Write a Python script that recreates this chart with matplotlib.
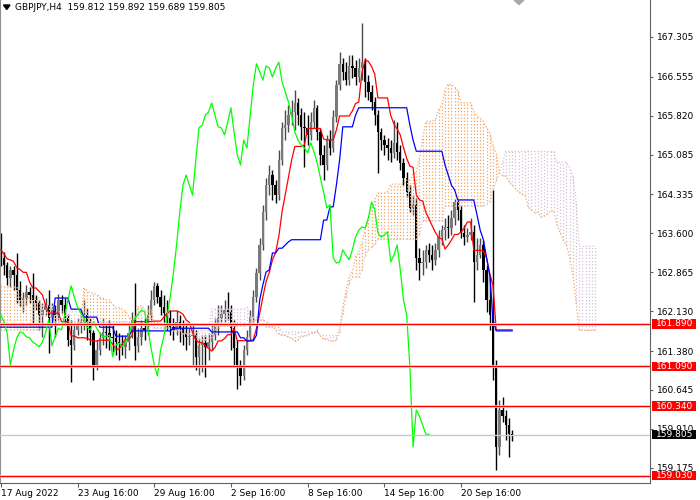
import numpy as np
import pandas as pd
import matplotlib
matplotlib.use("Agg")
import matplotlib.pyplot as plt
from matplotlib.patches import Rectangle, Polygon
from matplotlib.transforms import blended_transform_factory

# ── GBPJPY H4 bars, 17 Aug 16:00 .. 23 Sep (161 bars) ─────────────────────────
first_open = 163.53
closes = [
    163.14, 163.00, 162.76, 162.91, 162.81, 162.53, 162.34, 162.38, 162.49, 162.44,
    162.34, 162.29, 162.06, 162.15, 162.25, 162.00, 162.15, 162.06, 162.34, 162.25,
    162.00, 161.59, 161.49, 161.78, 161.87, 161.93, 162.06, 161.93, 161.72, 161.12,
    161.40, 161.63, 161.74, 161.72, 161.65, 161.63, 161.55, 161.51, 161.46, 161.55,
    161.72, 161.97, 161.48, 161.65, 161.81, 161.78, 162.06, 162.34, 162.61, 162.40,
    162.21, 162.10, 162.00, 161.83, 161.78, 161.93, 161.81, 161.72, 161.65, 161.66,
    161.68, 161.27, 161.49, 161.53, 161.46, 161.55, 161.68, 161.87, 162.00, 162.08,
    162.15, 162.12, 161.81, 161.44, 161.12, 160.91, 161.40, 161.65, 162.02, 162.40,
    162.85, 163.38, 164.00, 164.51, 164.70, 164.51, 164.32, 164.98, 165.59, 165.64,
    165.83, 165.89, 166.06, 165.83, 165.61, 165.59, 165.46, 165.70, 165.97, 165.51,
    165.08, 164.89, 165.36, 165.21, 165.80, 166.40, 166.80, 166.65, 166.49, 166.76,
    166.72, 166.55, 166.72, 166.83, 166.46, 166.27, 166.08, 165.83, 165.51, 165.36,
    165.27, 165.21, 165.12, 165.31, 165.14, 164.93, 164.65, 164.38, 164.08, 164.14,
    163.14, 163.04, 163.06, 163.29, 163.19, 163.10, 163.29, 163.53, 163.66, 163.72,
    163.70, 163.89, 164.19, 164.04, 163.61, 163.53, 163.57, 163.63, 163.06, 163.19,
    163.38, 162.91, 162.34, 162.06, 161.08, 159.57, 160.27, 160.15, 159.98, 159.812,
    159.805,
]
highs = [
    163.61, 163.25, 163.06, 162.98, 162.98, 163.23, 162.70, 162.49, 162.63, 162.59,
    162.85, 162.44, 162.34, 162.29, 162.38, 162.53, 162.29, 162.25, 162.46, 162.44,
    162.38, 162.08, 161.97, 161.87, 162.00, 162.15, 162.34, 162.19, 162.00, 161.78,
    161.59, 161.74, 162.00, 161.87, 161.97, 161.87, 161.78, 161.72, 161.68, 161.68,
    161.93, 162.12, 162.66, 161.81, 161.97, 162.00, 162.25, 162.53, 162.68, 162.66,
    162.53, 162.44, 162.34, 162.15, 162.00, 162.15, 162.06, 161.97, 161.87, 161.81,
    161.87, 161.78, 161.63, 161.68, 161.68, 161.72, 161.87, 162.00, 162.25, 162.25,
    162.34, 162.49, 162.25, 161.97, 161.59, 161.21, 161.49, 161.78, 162.15, 162.53,
    162.95, 163.51, 164.14, 164.64, 164.89, 164.80, 164.61, 165.17, 165.70, 165.93,
    166.02, 166.12, 166.31, 166.15, 165.97, 165.89, 165.83, 165.89, 166.12, 166.02,
    165.59, 165.27, 165.46, 165.55, 165.93, 166.49, 167.02, 166.91, 166.83, 166.97,
    166.97, 166.87, 166.91, 167.57, 166.91, 166.59, 166.40, 166.17, 165.93, 165.59,
    165.46, 165.40, 165.36, 165.74, 165.70, 165.27, 165.02, 164.76, 164.51, 164.32,
    164.27, 163.32, 163.29, 163.38, 163.42, 163.38, 163.42, 163.66, 163.76, 163.89,
    163.95, 164.04, 164.25, 164.23, 164.14, 163.76, 163.70, 163.89, 163.76, 163.51,
    163.51, 163.48, 163.00, 162.78, 164.42, 161.21, 160.46, 160.51, 160.27, 160.12,
    159.892,
]
lows = [
    162.98, 162.81, 162.63, 162.59, 162.53, 162.29, 162.23, 162.12, 162.25, 162.29,
    161.91, 162.15, 161.78, 161.65, 162.06, 161.34, 161.93, 161.65, 161.97, 162.10,
    161.87, 161.48, 160.80, 161.40, 161.68, 161.72, 161.78, 161.59, 161.49, 160.83,
    161.02, 161.31, 161.49, 161.44, 161.40, 161.36, 161.31, 161.21, 161.31, 161.25,
    161.40, 161.63, 161.21, 161.36, 161.49, 161.59, 161.68, 161.97, 162.25, 162.29,
    162.06, 161.93, 161.78, 161.68, 161.59, 161.68, 161.55, 161.49, 161.40, 161.49,
    161.12, 161.02, 160.93, 160.98, 160.89, 161.21, 161.40, 161.59, 161.68, 161.87,
    161.93, 161.97, 161.40, 161.12, 160.66, 160.74, 160.83, 161.31, 161.59, 161.93,
    162.31, 162.72, 163.29, 163.85, 164.32, 164.23, 164.17, 164.23, 164.89, 165.36,
    165.51, 165.64, 165.55, 165.64, 165.36, 164.85, 165.27, 165.36, 165.59, 165.36,
    164.89, 164.61, 164.80, 165.08, 165.13, 165.70, 166.31, 166.49, 166.40, 166.40,
    166.53, 166.40, 166.46, 166.49, 166.17, 166.12, 165.93, 165.64, 164.74, 165.17,
    165.08, 164.98, 164.95, 165.02, 164.98, 164.80, 164.51, 164.29, 164.00, 163.95,
    162.91, 162.72, 162.81, 162.95, 163.06, 162.91, 163.00, 163.15, 163.38, 163.48,
    163.51, 163.57, 163.76, 163.85, 163.51, 163.38, 163.44, 163.48, 162.31, 162.91,
    163.14, 162.68, 162.12, 161.78, 160.83, 159.14, 159.42, 160.04, 159.70, 159.38,
    159.689,
]

# Kijun-sen (step line): level and number of bars it holds
kijun_levels = [161.83, 162.38, 162.17, 162.02, 161.83, 161.66, 161.76, 161.81, 161.74,
                161.63, 161.57, 161.68, 162.34, 162.63, 162.87, 162.91, 163.23, 163.32,
                163.38, 163.44, 163.48, 163.85, 164.10, 164.51, 164.98, 165.61, 165.83,
                165.97, 165.64, 165.36, 165.15, 164.89, 164.70, 164.51, 164.42, 164.23,
                163.95, 163.66, 163.48, 163.14, 162.81, 161.97, 161.76]
kijun_runs = [17, 5, 4, 5, 5, 5, 13, 12, 9, 2, 3, 1, 1, 1, 1, 1, 2, 2, 1, 1, 10, 2, 2, 1,
              1, 4, 1, 16, 1, 1, 9, 1, 1, 1, 1, 6, 1, 1, 1, 1, 1, 1, 6]

# cloud at the left edge (comes from bars before the visible window)
span_a_head_levels = [162.59, 162.38, 162.04, 161.93]
span_a_head_runs = [6, 7, 4, 9]
span_b_head_levels = [161.78, 162.25, 162.12, 161.93, 161.87, 161.81, 161.76, 162.17]
span_b_head_runs = [13, 4, 9, 15, 7, 6, 12, 11]

level_lines = [161.890, 161.090, 160.340, 159.030]
bid_price = 159.805
price_ticks = [167.305, 166.555, 165.820, 165.085, 164.335, 163.600,
               162.865, 162.130, 161.380, 160.645, 159.910, 159.175]
date_ticks = [0, 24, 48, 72, 96, 120, 144]
date_labels = ["17 Aug 2022", "23 Aug 16:00", "29 Aug 16:00", "2 Sep 16:00",
               "8 Sep 16:00", "14 Sep 16:00", "20 Sep 16:00"]
title = "GBPJPY,H4  159.812 159.892 159.689 159.805"

SANDY = "#F4A460"
THISTLE = "#D8BFD8"
DOT = (0, (1, 1.6))
FS = 6.5

# ── Ichimoku ─────────────────────────────────────────────────────────────────
c = np.array(closes)
h = np.array(highs)
l = np.array(lows)
o = np.r_[first_open, c[:-1]]
n = len(c)
x = np.arange(n)
shift = 26

hs, ls = pd.Series(h), pd.Series(l)
tenkan = ((hs.rolling(9, min_periods=1).max() + ls.rolling(9, min_periods=1).min()) / 2).to_numpy()
kijun = np.repeat(kijun_levels, kijun_runs)
span_a = np.r_[np.repeat(span_a_head_levels, span_a_head_runs), (tenkan + kijun) / 2]
mid52 = ((hs.rolling(52).max() + ls.rolling(52).min()) / 2).to_numpy()[51:]
span_b = np.r_[np.repeat(span_b_head_levels, span_b_head_runs), mid52]
kx = np.arange(len(span_a))

# ── figure ───────────────────────────────────────────────────────────────────
fig = plt.figure(figsize=(7, 5), dpi=100)
ax = fig.add_axes([0, 17 / 500, 650 / 700, 483 / 500])
ax.set_xlim(-0.25, 203.13)
ax.set_ylim(158.890, 168.003)

# candles
up = c >= o
ax.vlines(x, l, h, colors=np.where(up, "#4a4a4a", "#000000"), lw=1.0, zorder=2)
ax.bar(x, np.maximum(np.abs(c - o), 0.015), bottom=np.minimum(o, c), width=0.74,
       color=np.where(up, "#7a7a7a", "#000000"), lw=0, zorder=2)

# cloud
bull = span_a >= span_b
ax.vlines(kx[bull], span_b[bull], span_a[bull], colors=SANDY, linestyles=DOT, lw=0.9, zorder=3)
ax.vlines(kx[~bull], span_a[~bull], span_b[~bull], colors=THISTLE, linestyles=DOT, lw=0.9, zorder=3)
ax.plot(kx, span_a, color=SANDY, ls=DOT, lw=0.9, zorder=3)
ax.plot(kx, span_b, color=THISTLE, ls=DOT, lw=0.9, zorder=3)

# lines
ax.plot(x, tenkan, color="#FF0000", lw=0.9, zorder=4)
ax.plot(x, kijun, color="#0000FF", lw=0.9, zorder=4)
ax.plot(x - shift, c, color="#00FF00", lw=0.9, zorder=4)

ax.axhline(bid_price, color="#C8C8C8", lw=1.0, zorder=4)
for v in level_lines:
    ax.axhline(v, color="#FFC4C4", lw=2.0, zorder=5)
    ax.axhline(v, color="#FF0000", lw=0.8, zorder=5)

# axes styling
ax.spines["top"].set_visible(False)
ax.spines["left"].set_color("#909090")
ax.spines["right"].set_color("#606060")
ax.spines["bottom"].set_color("#606060")

ax.yaxis.tick_right()
ax.set_yticks(price_ticks)
ax.set_yticklabels([f"{t:.3f}" for t in price_ticks])
ax.tick_params(axis="y", length=2.5, width=0.8, color="#606060", pad=2.5, labelsize=FS)
ax.set_xticks(date_ticks)
ax.set_xticklabels(date_labels)
ax.tick_params(axis="x", length=3, width=0.8, color="#606060", pad=1.5, labelsize=FS)
for lbl in ax.get_xticklabels():
    lbl.set_horizontalalignment("left")

# price labels on the scale
tr = blended_transform_factory(ax.transAxes, ax.transData)
box_h = 9.5 / 53
for v, fc in [(p, "#FF0000") for p in level_lines] + [(bid_price, "#000000")]:
    ax.add_patch(Rectangle((651.7 / 650, v - box_h / 2), 44.3 / 650, box_h, transform=tr,
                           facecolor=fc, edgecolor="none", clip_on=False, zorder=10))
    ax.text(655.5 / 650, v, f"{v:.3f}", transform=tr, color="white", fontsize=FS,
            va="center", ha="left", clip_on=False, zorder=11)

# header
fig.text(15 / 700, 1 - 7.5 / 500, title, fontsize=FS, va="center", ha="left")
fig.add_artist(Polygon([[3.5 / 700, 1 - 5 / 500], [10 / 700, 1 - 5 / 500], [6.75 / 700, 1 - 9.5 / 500]],
                       closed=True, transform=fig.transFigure, color="black"))
fig.add_artist(Polygon([[514 / 700, 1.0], [524 / 700, 1.0], [519 / 700, 1 - 4.5 / 500]],
                       closed=True, transform=fig.transFigure, color="#A8A8A8"))

fig.savefig("out.png", dpi=100, facecolor="white")
